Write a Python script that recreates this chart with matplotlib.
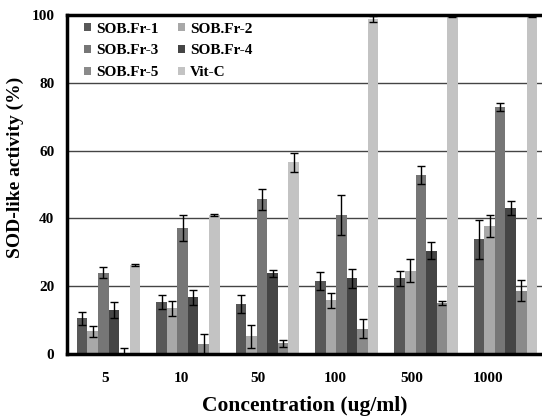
import numpy as np
import matplotlib
matplotlib.use('Agg')
import matplotlib.pyplot as plt

plt.rcParams['font.family'] = ['Liberation Serif', 'DejaVu Serif']
plt.rcParams['font.weight'] = 'bold'

concentrations = ['5', '10', '50', '100', '500', '1000']
series_names = ['SOB.Fr-1', 'SOB.Fr-2', 'SOB.Fr-3', 'SOB.Fr-4', 'SOB.Fr-5', 'Vit-C']

fr1 = [10.5, 15.4, 14.8, 21.5, 22.3, 33.8]
fr2 = [6.7, 13.5, 5.2, 15.9, 24.5, 37.8]
fr3 = [24.0, 37.2, 45.7, 41.0, 52.8, 72.9]
fr4 = [12.9, 16.7, 23.8, 22.3, 30.4, 43.1]
fr5 = [0.4, 3.0, 3.2, 7.5, 15.1, 18.7]
vitc = [26.3, 41.0, 56.6, 98.8, 99.8, 99.8]

fr1_err = [1.8, 2.1, 2.6, 2.7, 2.3, 5.7]
fr2_err = [1.6, 2.2, 3.3, 2.2, 3.4, 3.2]
fr3_err = [1.6, 3.8, 3.1, 5.9, 2.8, 1.1]
fr4_err = [2.4, 2.2, 1.1, 2.7, 2.5, 2.0]
fr5_err = [1.3, 3.0, 1.0, 2.7, 0.5, 3.0]
vitc_err = [0.3, 0.4, 2.8, 0.8, 0.3, 0.3]

values = [fr1, fr2, fr3, fr4, fr5, vitc]
errors = [fr1_err, fr2_err, fr3_err, fr4_err, fr5_err, vitc_err]
colors = ['#585858', '#a8a8a8', '#767676', '#454545', '#8a8a8a', '#c3c3c3']

fig = plt.figure(figsize=(5.42, 4.16), dpi=100)
ax = fig.add_axes([0.1236, 0.149, 0.8764, 0.815])

x = np.arange(len(concentrations))
width = 0.133

handles = []
for i, (vals, errs) in enumerate(zip(values, errors)):
    pos = x - 2.5 * width + i * width
    b = ax.bar(pos, vals, width, color=colors[i], label=series_names[i], zorder=2)
    handles.append(b)
    ax.errorbar(pos, vals, yerr=errs, fmt='none', ecolor='black',
                elinewidth=1, capsize=3, capthick=1, zorder=3)

ax.set_ylim(0, 100)
ax.set_xlim(-0.523, 5.46)
ax.set_yticks([0, 20, 40, 60, 80, 100])
ax.yaxis.grid(True, color='#444444', linewidth=1)
ax.set_axisbelow(True)

# labels in the original sit a bit left of the bar groups
ax.set_xticks(x - 0.048 - 0.034 * x)
ax.set_xticklabels(concentrations)
ax.tick_params(axis='x', length=0, pad=13, labelsize=11)
ax.tick_params(axis='y', length=0, pad=9, labelsize=11)

for side in ['left', 'bottom', 'top']:
    ax.spines[side].set_linewidth(2.5)
    ax.spines[side].set_color('black')
ax.spines['right'].set_visible(False)

ax.set_xlabel('Concentration (ug/ml)', fontsize=15.5, fontweight='bold', labelpad=8)
ax.set_ylabel('SOD-like activity (%)', fontsize=14, fontweight='bold')
ax.yaxis.set_label_coords(-0.09, 0.55)

# row-major legend order like the original
order = [0, 2, 4, 1, 3, 5]
ax.legend([handles[k] for k in order], [series_names[k] for k in order],
          ncol=2, loc='upper left', bbox_to_anchor=(0.02, 1.0), frameon=False,
          prop={'size': 11, 'weight': 'bold'}, handlelength=0.45, handleheight=0.45,
          handletextpad=0.35, columnspacing=1.25, labelspacing=0.58,
          borderaxespad=0, borderpad=0.5)

fig.savefig('out.png', dpi=100)
